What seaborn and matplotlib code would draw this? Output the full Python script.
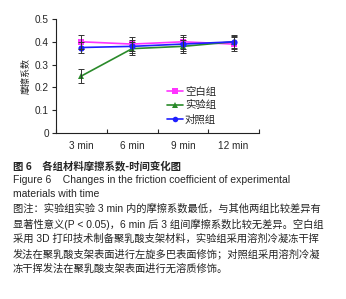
#!/usr/bin/env python3
"""
Friction coefficient over time for three scaffold groups, with figure caption.
"""

import numpy as np
import pandas as pd
import seaborn as sns
import matplotlib.pyplot as plt

times = ["3 min", "6 min", "9 min", "12 min"]
groups = ["空白组", "实验组", "对照组"]
blank_vals = [0.40, 0.39, 0.40, 0.39]
blank_err = [0.03, 0.03, 0.03, 0.03]
exp_vals = [0.25, 0.37, 0.38, 0.40]
exp_err = [0.03, 0.03, 0.03, 0.03]
ctrl_vals = [0.375, 0.38, 0.39, 0.40]
ctrl_err = [0.025, 0.03, 0.03, 0.025]

colors = {"空白组": "#ff33ff", "实验组": "#2a8a2a", "对照组": "#1f1fff"}
markers = {"空白组": "s", "实验组": "^", "对照组": "o"}

df = pd.DataFrame({
    "time": times * 3,
    "group": [g for g in groups for _ in times],
    "value": blank_vals + exp_vals + ctrl_vals,
    "err": blank_err + exp_err + ctrl_err,
})

sns.set_style("ticks")
plt.rcParams["font.family"] = ["Liberation Sans", "Noto Sans CJK SC", "DejaVu Sans"]

fig = plt.figure(figsize=(3.46, 2.99), dpi=100)
ax = fig.add_axes([56 / 346, 1 - 133 / 299, 203 / 346, 114 / 299])

sns.lineplot(data=df, x="time", y="value", hue="group", style="group",
             palette=colors, markers=markers, dashes=False, markersize=4.5,
             markeredgewidth=0, linewidth=1.2, ax=ax, legend=False, sort=False)

# error bars drawn from the same table
for g in groups:
    sub = df[df["group"] == g]
    xs = [times.index(t) for t in sub["time"]]
    ax.errorbar(xs, sub["value"], yerr=sub["err"], fmt="none",
                ecolor="#333333", elinewidth=0.7, capsize=2.5, capthick=0.7)

ax.set_xlim(-0.5, 3.5)
ax.set_ylim(0, 0.5)
ax.set_yticks(np.arange(0, 0.51, 0.1))
ax.set_yticklabels(["0", "0.1", "0.2", "0.3", "0.4", "0.5"], fontsize=7.2)
ax.set_xticks(range(4))
ax.set_xticklabels(times, fontsize=7.2)
ax.tick_params(axis="x", length=0, pad=6)
ax.set_xticks(np.arange(-0.5, 3.6, 1), minor=True)
ax.tick_params(axis="x", which="minor", length=3, direction="in", width=0.8)
ax.tick_params(axis="y", length=3, width=0.8, pad=2)
ax.set_xlabel("")
ax.set_ylabel("摩擦系数", fontsize=6.5, labelpad=3)
sns.despine(ax=ax)
for s in ["left", "bottom"]:
    ax.spines[s].set_linewidth(0.8)
    ax.spines[s].set_color("#222222")

# legend
handles = [plt.Line2D([], [], color=colors[g], marker=markers[g], markersize=4,
                      markeredgewidth=0, linewidth=1.2) for g in groups]
ax.legend(handles, groups, loc="lower left", bbox_to_anchor=(0.52, 0.03),
          frameon=False, fontsize=7.5, handlelength=1.6, handletextpad=0.15,
          labelspacing=0.35, borderpad=0)

# caption
fig.text(13 / 346, 1 - 166 / 299, "图 6　各组材料摩擦系数-时间变化图", fontsize=7.5,
         fontweight="bold", va="center", family=["Noto Sans CJK SC", "DejaVu Sans"])
fig.text(13 / 346, 1 - 180 / 299,
         "Figure 6    Changes in the friction coefficient of experimental",
         fontsize=7.5, va="center")
fig.text(13 / 346, 1 - 194 / 299, "materials with time", fontsize=7.5, va="center")
notes = [
    "图注：实验组实验 3 min 内的摩擦系数最低，与其他两组比较差异有",
    "显著性意义(P < 0.05)，6 min 后 3 组间摩擦系数比较无差异。空白组",
    "采用 3D 打印技术制备聚乳酸支架材料，实验组采用溶剂冷凝冻干挥",
    "发法在聚乳酸支架表面进行左旋多巴表面修饰；对照组采用溶剂冷凝",
    "冻干挥发法在聚乳酸支架表面进行无溶质修饰。",
]
for i, line in enumerate(notes):
    fig.text(13 / 346, 1 - (209 + 15 * i) / 299, line, fontsize=7.4,
             va="center", color="#222222")

fig.savefig("out.png", dpi=100)
